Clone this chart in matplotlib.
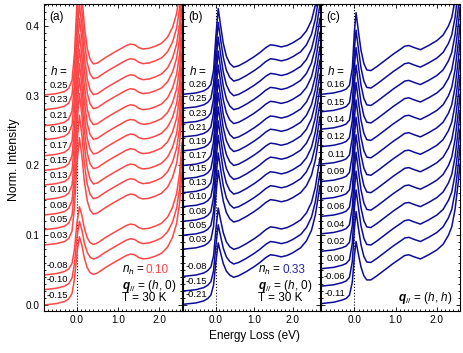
import numpy as np
import matplotlib
matplotlib.use('Agg')
import matplotlib.pyplot as plt
from matplotlib.ticker import MultipleLocator, FormatStrFormatter
from matplotlib.transforms import offset_copy

plt.rcParams['font.family'] = ['Liberation Sans', 'DejaVu Sans']
plt.rcParams['mathtext.fontset'] = 'custom'
plt.rcParams['mathtext.rm'] = 'Liberation Sans'
plt.rcParams['mathtext.it'] = 'Liberation Sans:italic'
plt.rcParams['mathtext.bf'] = 'Liberation Sans:bold'
plt.rcParams['mathtext.bfit'] = 'Liberation Sans:bold:italic'

RED = '#ff4646'
BLUE = '#0c0c98'

# panel (a): n_h = 0.10, q = (h, 0)
energy_a = [-0.8, -0.5, -0.3, -0.2, -0.12, -0.06, 0.0, 0.06, 0.12, 0.18, 0.25, 0.32, 0.4, 0.5,
            0.7, 0.9, 1.05, 1.2, 1.3, 1.4, 1.5, 1.6, 1.75, 1.9, 2.05, 2.2, 2.32, 2.42, 2.49, 2.55]
base_a = [0.000, 0.002, 0.005, 0.008, 0.012, 0.015, 0.019, 0.024, 0.030, 0.036, 0.040, 0.042, 0.043, 0.046,
          0.054, 0.061, 0.066, 0.071, 0.073, 0.072, 0.068, 0.066, 0.067, 0.070, 0.074, 0.083, 0.097,
          0.117, 0.145, 0.190]
frac_a = [0, 0, 0, 0.01, 0.06, 0.3, 0.75, 1.0, 0.75, 0.42, 0.18, 0.06, 0.01, 0,
          0, 0, 0, 0, 0, 0, 0, 0, 0, 0, 0, 0, 0, 0, 0, 0]
offsets_a = [0.301, 0.280, 0.257, 0.237, 0.214, 0.193, 0.172, 0.151, 0.129, 0.108, 0.086,
             0.043, 0.022, 0.000]
peaks_a = [0.15, 0.15, 0.15, 0.15, 0.15, 0.15, 0.15, 0.15, 0.15, 0.14, 0.13,
           0.074, 0.074, 0.074]
labels_a = ['0.25', '0.23', '0.21', '0.19', '0.17', '0.15', '0.13', '0.10', '0.08', '0.05', '0.03',
            '-0.08', '-0.10', '-0.15']

# panel (b): n_h = 0.33, q = (h, 0)
energy_b = [-0.84, -0.5, -0.3, -0.2, -0.12, -0.05, 0.01, 0.07, 0.13, 0.2, 0.28, 0.37, 0.47, 0.6,
            0.8, 1.0, 1.15, 1.3, 1.42, 1.55, 1.7, 1.85, 2.0, 2.2, 2.35, 2.48, 2.58, 2.7]
base_b = [0.000, 0.002, 0.005, 0.008, 0.011, 0.014, 0.017, 0.020, 0.025, 0.030, 0.034, 0.037, 0.038, 0.041,
          0.047, 0.054, 0.060, 0.067, 0.071, 0.070, 0.068, 0.070, 0.074, 0.081, 0.091, 0.106, 0.128, 0.170]
frac_b = [0, 0, 0, 0.005, 0.03, 0.2, 0.65, 1.0, 0.72, 0.42, 0.2, 0.07, 0.01, 0,
          0, 0, 0, 0, 0, 0, 0, 0, 0, 0, 0, 0, 0, 0]
offsets_b = [0.302, 0.282, 0.261, 0.241, 0.221, 0.200, 0.181, 0.161, 0.141, 0.120, 0.100, 0.080,
             0.041, 0.020, 0.001]
peaks_b = [0.103, 0.103, 0.103, 0.103, 0.103, 0.103, 0.103, 0.103, 0.103, 0.103, 0.098, 0.093,
           0.078, 0.075, 0.068]
labels_b = ['0.26', '0.25', '0.23', '0.21', '0.19', '0.17', '0.15', '0.13', '0.10', '0.08', '0.05',
            '0.03', '-0.08', '-0.15', '-0.21']

# panel (c): q = (h, h)
energy_c = [-0.81, -0.5, -0.3, -0.2, -0.12, -0.05, 0.0, 0.04, 0.1, 0.16, 0.23, 0.3, 0.4, 0.55,
            0.75, 0.95, 1.1, 1.22, 1.32, 1.45, 1.6, 1.8, 2.0, 2.15, 2.28, 2.36, 2.44, 2.52, 2.56]
base_c = [0.000, 0.002, 0.005, 0.007, 0.010, 0.013, 0.015, 0.017, 0.021, 0.025, 0.029, 0.031, 0.034, 0.040,
          0.049, 0.058, 0.064, 0.069, 0.070, 0.067, 0.064, 0.070, 0.077, 0.085, 0.098, 0.110, 0.135,
          0.175, 0.200]
frac_c = [0, 0, 0, 0.005, 0.03, 0.25, 0.75, 1.0, 0.68, 0.38, 0.15, 0.04, 0, 0,
          0, 0, 0, 0, 0, 0, 0, 0, 0, 0, 0, 0, 0, 0, 0]
offsets_c = [0.302, 0.277, 0.252, 0.227, 0.202, 0.177, 0.152, 0.127, 0.102, 0.077, 0.052,
             0.027, 0.002]
peaks_c = [0.10, 0.10, 0.10, 0.10, 0.10, 0.10, 0.10, 0.10, 0.10, 0.098, 0.096,
           0.09, 0.072]
labels_c = ['0.16', '0.15', '0.14', '0.12', '0.11', '0.09', '0.07', '0.06', '0.04', '0.02', '0.00',
            '-0.06', '-0.11']

fig = plt.figure(figsize=(4.63, 3.53), dpi=100)
W, H = 463.0, 353.0
bottom = 1 - 311 / H
height = 307 / H
axA = fig.add_axes([44 / W, bottom, 138 / W, height])
axB = fig.add_axes([183 / W, bottom, 137 / W, height])
axC = fig.add_axes([321 / W, bottom, 139 / W, height])


def drawPanel(ax, energy, base, frac, offsets, peaks, labels, color, xlim, tag, showY):
    e = np.array(energy)
    b = np.array(base)
    f = np.array(frac)
    ax.axvline(0, color='k', ls=':', lw=0.8, zorder=1)
    for off, pk, lab in zip(offsets, peaks, labels):
        ax.plot(e, off + b + pk * f, color=color, lw=1.1, zorder=2)
        ax.text(0.176, off + 0.014, lab, transform=ax.get_yaxis_transform(),
                ha='right', va='center', fontsize=6.8)
    ax.set_xlim(*xlim)
    ax.set_ylim(-0.0086, 0.4315)
    ax.xaxis.set_major_locator(MultipleLocator(1.0))
    ax.xaxis.set_minor_locator(MultipleLocator(0.1))
    ax.yaxis.set_major_locator(MultipleLocator(0.1))
    ax.yaxis.set_minor_locator(MultipleLocator(0.01))
    ax.xaxis.set_major_formatter(FormatStrFormatter('%.1f'))
    ax.yaxis.set_major_formatter(FormatStrFormatter('%.1f'))
    ax.tick_params(which='both', direction='in', top=True, right=True, labelsize=7.2, width=0.6)
    ax.tick_params(which='major', length=3, pad=3)
    ax.tick_params(which='minor', length=1.5)
    if not showY:
        ax.tick_params(labelleft=False)
    for s in ax.spines.values():
        s.set_linewidth(0.8)
    ax.text(0.038, 0.958, tag, transform=ax.transAxes, ha='left', va='center', fontsize=8.5)
    ax.text(0.045, 0.779, r'$h$ =', transform=ax.transAxes, ha='left', va='center', fontsize=8.5)


drawPanel(axA, energy_a, base_a, frac_a, offsets_a, peaks_a, labels_a, RED, (-0.8, 2.55), '(a)', True)
drawPanel(axB, energy_b, base_b, frac_b, offsets_b, peaks_b, labels_b, BLUE, (-0.84, 2.7), '(b)', False)
drawPanel(axC, energy_c, base_c, frac_c, offsets_c, peaks_c, labels_c, BLUE, (-0.81, 2.56), '(c)', False)

fig.canvas.draw()
for ax, nh, col, x0 in [(axA, '0.10', RED, 0.563), (axB, '0.33', '#2424b0', 0.551)]:
    t = ax.text(x0, 0.125, r'$n_h$ = ', transform=ax.transAxes, va='baseline', fontsize=8.5)
    ext = t.get_window_extent(renderer=fig.canvas.get_renderer())
    tr = offset_copy(ax.transAxes, fig=fig, x=ext.width, y=0, units='dots')
    ax.text(x0, 0.125, nh, transform=tr, va='baseline', fontsize=8.5, color=col)
    ax.text(x0, 0.072, r'$\mathbfit{q}_{//}$ = ($h$, 0)', transform=ax.transAxes,
            va='baseline', fontsize=8.5)
    ax.text(x0, 0.031, 'T = 30 K', transform=ax.transAxes, va='baseline', fontsize=8.5)
axC.text(0.554, 0.031, r'$\mathbfit{q}_{//}$ = ($h$, $h$)', transform=axC.transAxes,
         va='baseline', fontsize=8.5)

fig.text(254.5 / W, 1 - 335.7 / H, 'Energy Loss (eV)', ha='center', va='center', fontsize=8.5)
fig.text(14.3 / W, 1 - 160 / H, 'Norm. Intensity', ha='center', va='center', rotation=90, fontsize=8.8)

fig.savefig('out.png', dpi=100)
